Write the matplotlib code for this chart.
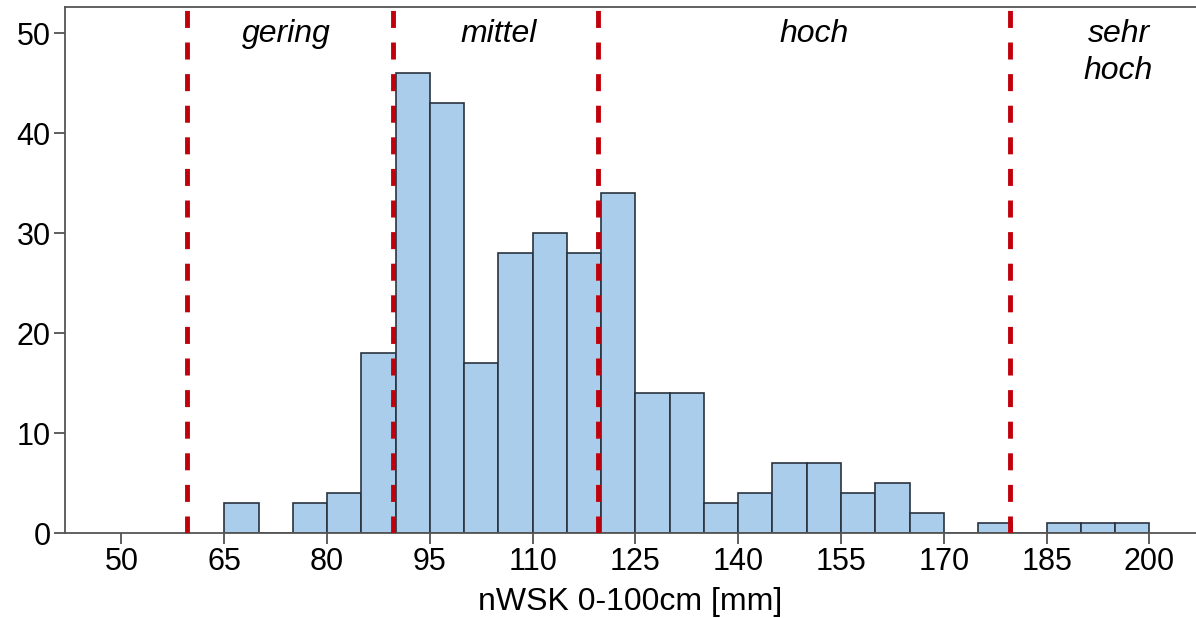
import numpy as np
import matplotlib.pyplot as plt

bin_links = [65, 70, 75, 80, 85, 90, 95, 100, 105, 110, 115, 120, 125, 130,
             135, 140, 145, 150, 155, 160, 165, 170, 175, 180, 185, 190, 195]
haeufigkeit = [3, 0, 3, 4, 18, 46, 43, 17, 28, 30, 28, 34, 14, 14,
               3, 4, 7, 7, 4, 5, 2, 0, 1, 0, 1, 1, 1]
bin_breite = 5
grenzen = [59.5, 89.6, 119.6, 179.7]
klassen = ['gering', 'mittel', 'hoch', 'sehr\nhoch']
klassen_x = [74, 105, 151, 195.5]
x_ticks = [50, 65, 80, 95, 110, 125, 140, 155, 170, 185, 200]
y_ticks = [0, 10, 20, 30, 40, 50]

plt.rcParams['font.family'] = ['Liberation Sans', 'DejaVu Sans']

fig = plt.figure(figsize=(11.96, 6.18), dpi=100)
ax = fig.add_axes([0.054, 0.1375, 0.946, 0.851])

ax.bar(bin_links, haeufigkeit, width=bin_breite, align='edge',
       color='#abcdec', edgecolor='#2a3340', linewidth=1.2, zorder=2)

for g in grenzen:
    ax.axvline(g, color='#c0000b', lw=3.5, linestyle=(0, (3.5, 3)), zorder=3)

for x, t in zip(klassen_x, klassen):
    ax.text(x, 51.4, t, ha='center', va='top', fontsize=23, style='italic',
            linespacing=1.3)

ax.set_xlim(41.7, 206.8)
ax.set_ylim(0, 52.6)
ax.set_xticks(x_ticks)
ax.set_yticks(y_ticks)
ax.tick_params(labelsize=22, length=8, width=1.2, color='#444444', pad=2)
ax.set_xlabel('nWSK 0-100cm [mm]', fontsize=23, labelpad=7)

for s in ['left', 'bottom', 'top']:
    ax.spines[s].set_color('#555555')
    ax.spines[s].set_linewidth(1.3)
ax.spines['right'].set_visible(False)

fig.savefig('out.png', dpi=100)
